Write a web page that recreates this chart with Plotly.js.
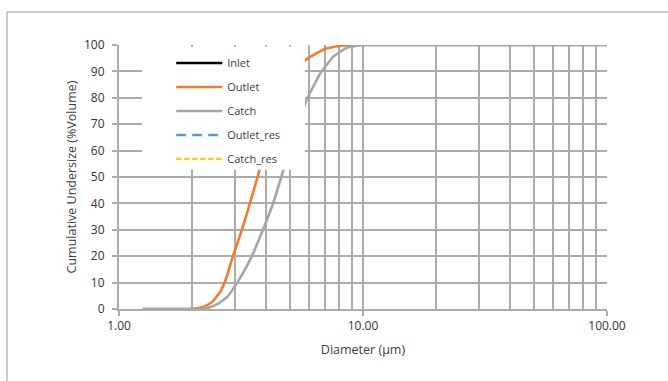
<!DOCTYPE html>
<html>
<head>
<meta charset="utf-8">
<script src="https://cdn.plot.ly/plotly-3.0.1.min.js"></script>
<style>html,body{margin:0;padding:0;background:#fff;}#chart{width:668px;height:381px;}</style>
</head>
<body>
<div id="chart"></div>
<script>
// Data
const seriesNames = ["Inlet", "Outlet", "Catch", "Outlet_res", "Catch_res"];
const inletX = [null];
const inletY = [null];
const outletX = [1.25, 1.6, 1.95, 2.15, 2.3, 2.43, 2.6, 2.72, 2.8, 2.93, 3.19, 3.44, 3.75, 4.1, 4.6, 5.2, 5.95, 6.98, 8.05, 9.7, 20, 50, 100];
const outletY = [0, 0, 0, 0.5, 1.5, 3.0, 6.5, 10.5, 14, 20, 30, 40, 52, 65, 80, 90, 95, 98.5, 99.7, 100, 100, 100, 100];
const catchX = [1.25, 1.6, 2.0, 2.2, 2.36, 2.55, 2.77, 3.05, 3.44, 3.89, 4.28, 4.7, 5.2, 5.6, 5.95, 6.66, 7.54, 8.6, 9.9, 20, 50, 100];
const catchY = [0, 0, 0, 0.1, 0.7, 2, 4.5, 10, 18.5, 30, 40, 52, 65, 74, 80.3, 89, 95.5, 99, 100, 100, 100, 100];
const outletResX = [null];
const outletResY = [null];
const catchResX = [null];
const catchResY = [null];
const xMajorTicks = [1, 10, 100];
const xMajorLabels = ["1.00", "10.00", "100.00"];
const xMinorTicks = [2, 3, 4, 5, 6, 7, 8, 9, 20, 30, 40, 50, 60, 70, 80, 90];
const yTicks = [0, 10, 20, 30, 40, 50, 60, 70, 80, 90, 100];

const font = "'Open Sans', 'Liberation Sans', sans-serif";
function tr(name, x, y, color, dash, i) {
  return {
    type: "scatter", mode: "lines", name: name, x: x, y: y,
    legendgroup: "g" + i,
    line: {color: color, width: 2.6, dash: dash, shape: "spline", smoothing: 0.3},
    hoverinfo: "skip"
  };
}
const data = [
  tr(seriesNames[0], inletX, inletY, "#000000", "solid", 0),
  tr(seriesNames[1], outletX, outletY, "#ED7D31", "solid", 1),
  tr(seriesNames[2], catchX, catchY, "#A5A5A5", "solid", 2),
  tr(seriesNames[3], outletResX, outletResY, "#5B9BD5", "10px,6px", 3),
  tr(seriesNames[4], catchResX, catchResY, "#FFC000", "5px,3px", 4)
];
const grid = "#ABABAB";
const layout = {
  width: 668, height: 381,
  margin: {l: 119, r: 61, t: 45, b: 72},
  paper_bgcolor: "#ffffff", plot_bgcolor: "#ffffff",
  font: {family: font, size: 11, color: "#404040"},
  showlegend: true,
  legend: {
    x: 0.107, y: 0.987, xanchor: "left", yanchor: "top",
    bgcolor: "rgba(255,255,255,0)", borderwidth: 0,
    traceorder: "grouped", tracegroupgap: 5,
    itemwidth: 46,
    font: {family: font, size: 11, color: "#404040"}
  },
  xaxis: {
    type: "log", range: [0, 2],
    tickmode: "array", tickvals: xMajorTicks, ticktext: xMajorLabels,
    ticks: "outside", ticklen: 5, tickcolor: grid, tickwidth: 2,
    showgrid: true, gridcolor: grid, gridwidth: 2,
    minor: {tickmode: "array", tickvals: xMinorTicks, showgrid: true, gridcolor: grid, gridwidth: 2, ticks: ""},
    showline: true, linecolor: grid, linewidth: 2,
    zeroline: false,
    tickfont: {family: font, size: 12, color: "#333333"},
    title: {text: "Diameter (μm)", font: {family: font, size: 12.5, color: "#404040"}, standoff: 12}
  },
  yaxis: {
    range: [0, 100],
    tickmode: "array", tickvals: yTicks,
    ticks: "outside", ticklen: 5, tickcolor: grid, tickwidth: 2,
    ticklabelstandoff: 5,
    showgrid: true, gridcolor: grid, gridwidth: 2,
    showline: true, linecolor: grid, linewidth: 2,
    zeroline: false,
    tickfont: {family: font, size: 12, color: "#333333"},
    title: {text: "Cumulative Undersize (%Volume)", font: {family: font, size: 12.5, color: "#404040"}, standoff: 5}
  },
  shapes: [
    {
      type: "rect", xref: "paper", yref: "paper",
      x0: -0.2295, x1: 1.3, y0: -0.4, y1: 1.125,
      line: {color: "#9a9a9a", width: 1}, fillcolor: "rgba(0,0,0,0)", layer: "below"
    },
    {
      type: "rect", xref: "paper", yref: "paper",
      x0: 0.047, x1: 0.381, y0: 0.527, y1: 0.993,
      line: {width: 0}, fillcolor: "#ffffff", layer: "above"
    }
  ]
};
Plotly.newPlot("chart", data, layout, {displayModeBar: false, staticPlot: true});
</script>
</body>
</html>
